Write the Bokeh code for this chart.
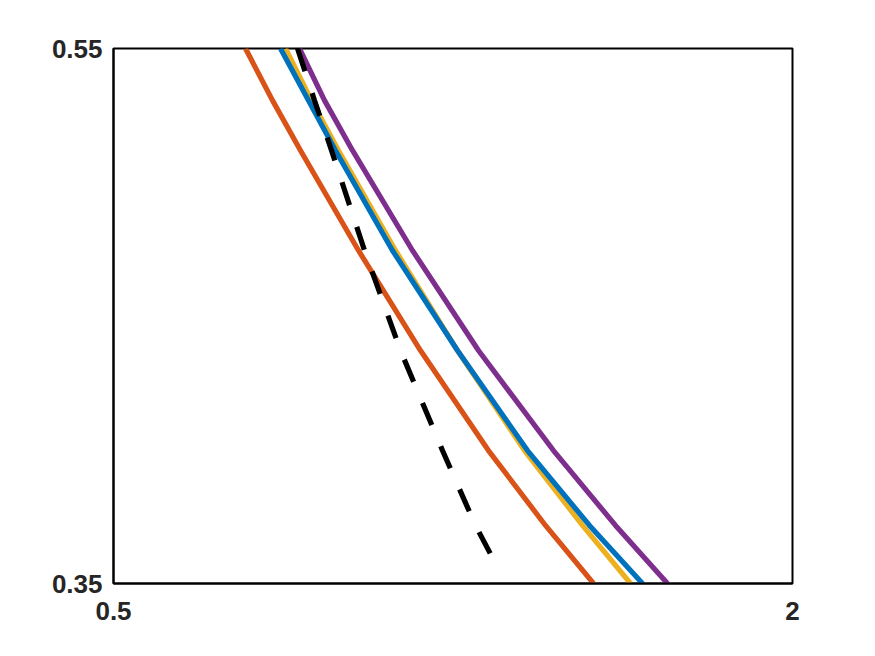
from bokeh.plotting import figure
from bokeh.models import FixedTicker, Range1d
from bokeh.embed import file_html
from bokeh.resources import INLINE

# y levels at which curves were read
y_vals = [0.55, 0.5306, 0.5119, 0.4745, 0.4371, 0.3997, 0.3717, 0.35]
orange_x = [0.7916, 0.8512, 0.9131, 1.0412, 1.1782, 1.3284, 1.4543, 1.5604]
yellow_x = [0.8800, 0.9374, 0.9971, 1.1230, 1.2599, 1.4080, 1.5361, 1.6421]
blue_x = [0.8689, 0.9308, 0.9904, 1.1163, 1.2599, 1.4146, 1.5515, 1.6686]
purple_x = [0.9109, 0.9661, 1.0280, 1.1605, 1.3063, 1.4720, 1.6090, 1.7238]
black_y = [0.55, 0.5306, 0.5119, 0.4745, 0.4371, 0.3997, 0.3717, 0.3575]
black_x = [0.9065, 0.9440, 0.9816, 1.0545, 1.1340, 1.2268, 1.2997, 1.3439]

x_ticks = [0.5, 2]
y_ticks = [0.35, 0.55]

p = figure(width=870, height=650, output_backend="svg", toolbar_location=None,
           x_range=Range1d(0.5, 2), y_range=Range1d(0.35, 0.55),
           min_border_left=113, min_border_right=78, min_border_top=48, min_border_bottom=67)
p.grid.visible = False
p.outline_line_color = "black"
p.outline_line_width = 2
p.background_fill_color = "white"
p.border_fill_color = "white"

lw = 5.2
p.line(orange_x, y_vals, line_color="#D95319", line_width=lw, line_join="round")
p.line(yellow_x, y_vals, line_color="#EDB120", line_width=lw, line_join="round")
p.line(blue_x, y_vals, line_color="#0072BD", line_width=lw, line_join="round")
p.line(purple_x, y_vals, line_color="#7E2F8E", line_width=lw, line_join="round")
p.line(black_x, black_y, line_color="black", line_width=lw, line_dash="24 23")

for ax in (p.xaxis, p.yaxis):
    ax.major_tick_in = 0
    ax.major_tick_out = 0
    ax.minor_tick_in = 0
    ax.minor_tick_out = 0
    ax.axis_line_color = "black"
    ax.axis_line_width = 2
    ax.major_label_text_font = "Liberation Sans"
    ax.major_label_text_font_style = "bold"
    ax.major_label_text_font_size = "26px"
    ax.major_label_text_color = "#262626"

p.xaxis.ticker = FixedTicker(ticks=x_ticks)
p.yaxis.ticker = FixedTicker(ticks=y_ticks)
p.xaxis.major_label_standoff = 18
p.yaxis.major_label_standoff = 11
p.xaxis.major_label_overrides = {0.5: "0.5", 2: "2"}
p.yaxis.major_label_overrides = {0.35: "0.35", 0.55: "0.55"}

open("out.html", "w").write(file_html(p, INLINE))
